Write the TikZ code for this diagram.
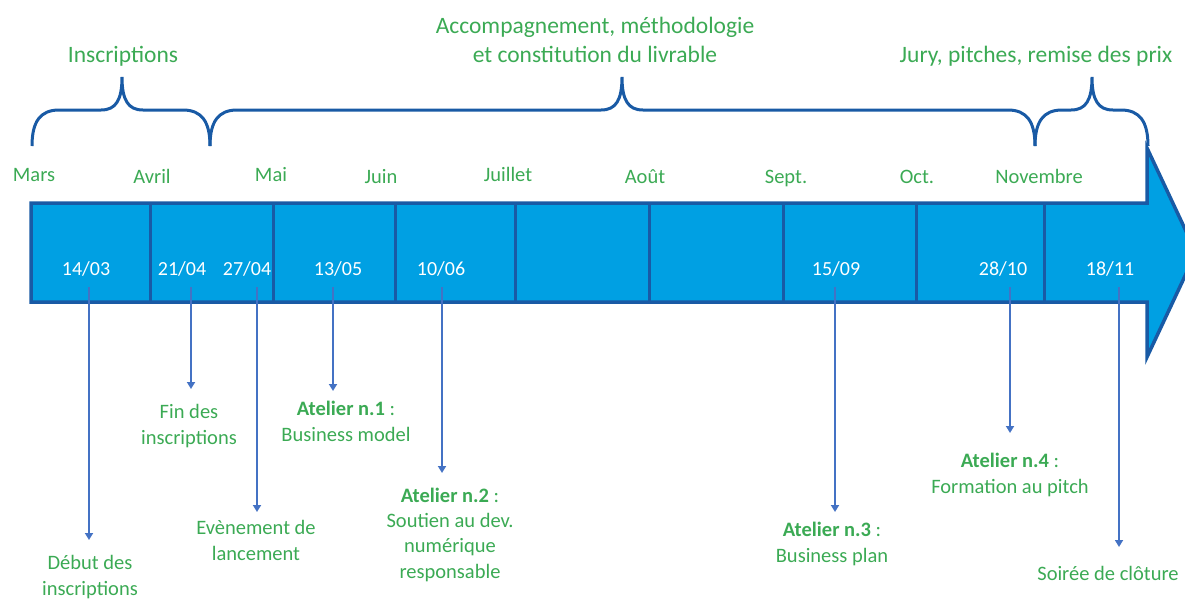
\documentclass[tikz,border=0pt]{standalone}
\usepackage{fontspec}
\setmainfont{Carlito}
\usetikzlibrary{arrows.meta}
\definecolor{gtxt}{RGB}{59,170,84}
\definecolor{barfill}{RGB}{0,160,227}
\definecolor{barline}{RGB}{25,90,165}
\definecolor{conn}{RGB}{68,114,196}
\newcommand\tlbrace[3]{%
  \draw[bracestyle] (#1,146) .. controls (#1,122) and ({#1+8},110) .. ({#1+27},110)
    -- ({#2-21},110) .. controls ({#2-6},110) and (#2,100) .. (#2,77)
    .. controls (#2,100) and ({#2+6},110) .. ({#2+21},110)
    -- ({#3-27},110) .. controls ({#3-8},110) and (#3,122) .. (#3,146);}
\begin{document}
\begin{tikzpicture}[x=1pt,y=-1pt,
  bracestyle/.style={draw=barline,line width=3pt},
  month/.style={anchor=base,text=gtxt,inner sep=0pt,font=\fontsize{20.5}{25}\selectfont},
  datelbl/.style={anchor=base,text=white,inner sep=0pt,font=\fontsize{20}{24}\selectfont},
  phase/.style={anchor=base,text=gtxt,inner sep=0pt,align=center,font=\fontsize{23.5}{29}\selectfont},
  evlbl/.style={anchor=base,text=gtxt,inner sep=0pt,align=center,font=\fontsize{20.5}{25.3}\selectfont},
  connector/.style={draw=conn,line width=2.4pt,-{Triangle[width=8pt,length=7pt]}}]
\useasboundingbox (0,0) rectangle (1185,598);
% timeline arrow
\draw[barline,fill=barfill,line width=3.5pt,line join=miter]
  (31,203) -- (1147,203) -- (1147,148) -- (1196,252.5) -- (1147,357) -- (1147,302) -- (31,302) -- cycle;
\foreach \x in {150,273,395,515,649,783,916,1044}
  \draw[barline,line width=3pt] (\x,203) -- (\x,302);
% braces
\tlbrace{32}{122}{210}
\tlbrace{210}{622}{1035}
\tlbrace{1035}{1092}{1148}
% phase labels (base = last line)
\node[phase] (ph1) at (123,62) {Inscriptions};
\node[phase] (ph2) at (595,62) {Accompagnement, méthodologie\\et constitution du livrable};
\node[phase] (ph3) at (1036,62) {Jury, pitches, remise des prix};
% months
\node[month] (m1) at (34,181) {Mars};
\node[month] (m2) at (152,183) {Avril};
\node[month] (m3) at (271,181) {Mai};
\node[month] (m4) at (381,183) {Juin};
\node[month] (m5) at (508,181) {Juillet};
\node[month] (m6) at (645,183) {Août};
\node[month] (m7) at (786,183) {Sept.};
\node[month] (m8) at (917,183) {Oct.};
\node[month] (m9) at (1039,183) {Novembre};
% dates
\node[datelbl] (d1) at (86,275) {14/03};
\node[datelbl] (d2) at (182,275) {21/04};
\node[datelbl] (d3) at (247,275) {27/04};
\node[datelbl] (d4) at (338,275) {13/05};
\node[datelbl] (d5) at (441,275) {10/06};
\node[datelbl] (d6) at (836,275) {15/09};
\node[datelbl] (d7) at (1003,275) {28/10};
\node[datelbl] (d8) at (1110,275) {18/11};
% connector starts and ends
\coordinate (s1) at (89,287);   \coordinate (e1) at (89,540);
\coordinate (s2) at (191,287);  \coordinate (e2) at (191,389);
\coordinate (s3) at (257,287);  \coordinate (e3) at (257,512);
\coordinate (s4) at (333,287);  \coordinate (e4) at (333,391);
\coordinate (s5) at (442,287);  \coordinate (e5) at (442,473);
\coordinate (s6) at (835,287);  \coordinate (e6) at (835,512);
\coordinate (s7) at (1010,287); \coordinate (e7) at (1010,433);
\coordinate (s8) at (1119,287); \coordinate (e8) at (1119,547);
\foreach \i in {1,...,8} \draw[connector] (s\i) -- (e\i);
% event labels (base = last line)
\node[evlbl] (l1) at (90,595) {Début des\\inscriptions};
\node[evlbl] (l2) at (189,444) {Fin des\\inscriptions};
\node[evlbl] (l3) at (256,560) {Evènement de\\lancement};
\node[evlbl] (l4) at (346,441) {\textbf{Atelier n.1} :\\Business model};
\node[evlbl] (l5) at (450,578) {\textbf{Atelier n.2} :\\Soutien au dev.\\numérique\\responsable};
\node[evlbl] (l6) at (832,562) {\textbf{Atelier n.3} :\\Business plan};
\node[evlbl] (l7) at (1010,493) {\textbf{Atelier n.4} :\\Formation au pitch};
\node[evlbl] (l8) at (1108,580) {Soirée de clôture};
\end{tikzpicture}
\end{document}
